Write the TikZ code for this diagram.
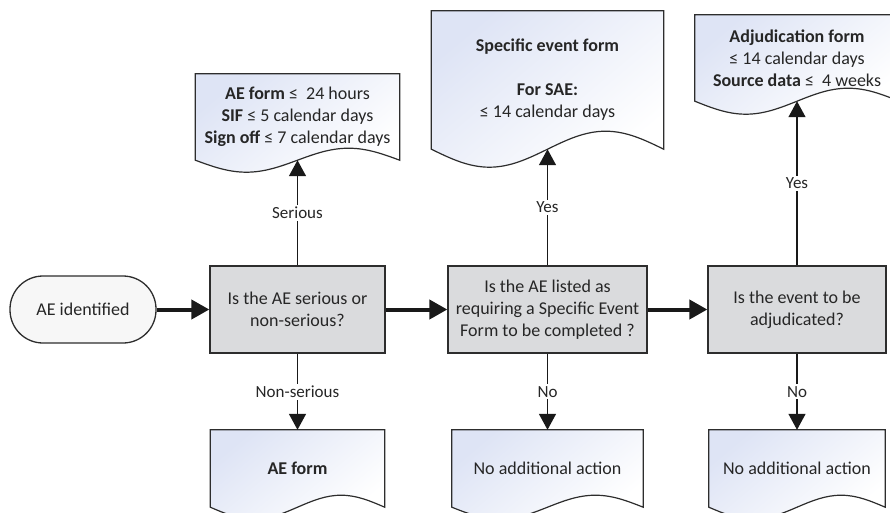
\documentclass[tikz,border=0pt]{standalone}
\usepackage{fontspec}
\setmainfont{Carlito}
\usetikzlibrary{arrows.meta, calc, backgrounds}

\definecolor{docblue}{RGB}{222,228,245}
\definecolor{qgray}{RGB}{218,219,221}
\definecolor{linegray}{RGB}{45,45,45}

\newcommand{\docoutline}[2]{%
  \path[docshape] let \p1=(#1.south west), \p2=(#1.north east), \n1={(\x2-\x1)/4} in
    (\p1) -- (\x1,\y2) -- (\p2) -- (\x2,\y1)
    sin (\x2-\n1,\y1+#2) cos (\x2-2*\n1,\y1) sin (\x1+\n1,\y1-#2) cos (\p1) -- cycle;}

\begin{document}
\begin{tikzpicture}[x=1pt, y=-1pt,
                    font=\fontsize{18}{22}\selectfont,
                    every node/.style={align=center, inner sep=0pt, text=black!85},
                    startbox/.style={draw=linegray, line width=1.3pt, fill=gray!6, rounded corners=33pt,
                                     minimum width=146pt, minimum height=67pt},
                    qbox/.style={draw=linegray, line width=1.3pt, fill=qgray, minimum height=87pt},
                    docshape/.style={draw=linegray, line width=1.2pt, top color=docblue, bottom color=white,
                                     shading angle=40},
                    lbl/.style={fill=white, inner sep=2pt, font=\fontsize{17}{20}\selectfont},
                    mainarrow/.style={draw=black!90, line width=4pt, -{Triangle[length=18pt, width=19pt]}},
                    sidearrow/.style={draw=black!90, line width=1.4pt, -{Triangle[length=16pt, width=17pt]}}]
                    \path[use as bounding box, clip] (0,0) rectangle (890,512);
                    \node [startbox] (start) at (83,309.5) {AE identified};
                    \node [qbox, minimum width=175pt] (q1) at (297.5,309.5) {Is the AE serious or\\non-serious?};
                    \node [qbox, minimum width=199pt] (q2) at (547.5,309.5) {Is the AE listed as\\requiring a Specific Event\\Form to be completed ?};
                    \node [qbox, minimum width=178pt] (q3) at (797,309.5) {Is the event to be\\adjudicated?};
                    \node [minimum width=204pt, minimum height=86pt] (d1) at (297.5,117)
                        {\textbf{AE form} ≤\ \ 24 hours\\\textbf{SIF} ≤ 5 calendar days\\\textbf{Sign off} ≤ 7 calendar days};
                    \node [minimum width=232pt, minimum height=138pt] (d2) at (547.5,80)
                        {\textbf{Specific event form}\\[22pt]\textbf{For SAE:}\\≤ 14 calendar days};
                    \node [minimum width=204pt, minimum height=86pt] (d3) at (797,58)
                        {\textbf{Adjudication form}\\≤ 14 calendar days\\\textbf{Source data} ≤\ \ 4 weeks};
                    \node [minimum width=174pt, minimum height=77pt] (b1) at (297.5,468.5) {\textbf{AE form}};
                    \node [minimum width=191pt, minimum height=77pt] (b2) at (547.5,468.5) {No additional action};
                    \node [minimum width=176pt, minimum height=77pt] (b3) at (797,468.5) {No additional action};
                    \begin{scope}[on background layer]
                        \docoutline{d1}{12}
                        \docoutline{d2}{18}
                        \docoutline{d3}{13}
                        \docoutline{b1}{12}
                        \docoutline{b2}{12}
                        \docoutline{b3}{12}
                    \end{scope}
                    \draw [mainarrow] (start) -- (q1);
                    \draw [mainarrow] (q1) -- (q2);
                    \draw [mainarrow] (q2) -- (q3);
                    \draw [sidearrow] (q1.north) -- node [lbl] {Serious} (d1.south);
                    \draw [sidearrow] (q1.south) -- node [lbl] {Non-serious} (b1.north);
                    \draw [sidearrow] (q2.north) -- node [lbl] {Yes} (d2.south);
                    \draw [sidearrow] (q2.south) -- node [lbl] {No} (b2.north);
                    \draw [sidearrow] (q3.north) -- node [lbl] {Yes} (d3.south);
                    \draw [sidearrow] (q3.south) -- node [lbl] {No} (b3.north);
                \end{tikzpicture}
\end{document}
